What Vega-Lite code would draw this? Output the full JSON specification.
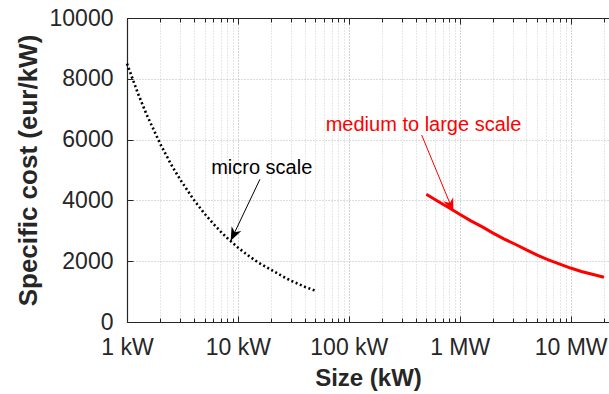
{
  "$schema": "https://vega.github.io/schema/vega-lite/v6.json",
  "width": 482,
  "height": 304,
  "autosize": "none",
  "padding": {"left": 127, "top": 18, "right": 0, "bottom": 72},
  "background": "white",
  "config": {
    "font": "Liberation Sans",
    "view": {"stroke": null},
    "axis": {
      "domainColor": "#262626",
      "domainWidth": 1.2,
      "tickColor": "#262626",
      "labelColor": "#262626",
      "labelFont": "Liberation Sans",
      "labelFontSize": 23,
      "titleFont": "Liberation Sans",
      "titleFontSize": 26,
      "titleFontWeight": "bold",
      "titleColor": "#262626",
      "gridDash": [1, 2],
      "gridWidth": 1
    }
  },
  "datasets": {
    "micro": [
      {"size": 1, "cost": 8500},
      {"size": 1.25, "cost": 7535},
      {"size": 1.5, "cost": 6830},
      {"size": 2, "cost": 5850},
      {"size": 2.5, "cost": 5183},
      {"size": 3, "cost": 4700},
      {"size": 4, "cost": 4020},
      {"size": 5, "cost": 3564},
      {"size": 6, "cost": 3231},
      {"size": 7, "cost": 2972},
      {"size": 8, "cost": 2765},
      {"size": 10, "cost": 2452},
      {"size": 12, "cost": 2222},
      {"size": 15, "cost": 1975},
      {"size": 20, "cost": 1715},
      {"size": 25, "cost": 1510},
      {"size": 30, "cost": 1360},
      {"size": 40, "cost": 1160},
      {"size": 50, "cost": 1030}
    ],
    "large": [
      {"size": 500, "cost": 4200},
      {"size": 630, "cost": 3980},
      {"size": 800, "cost": 3760},
      {"size": 1000, "cost": 3545},
      {"size": 1250, "cost": 3335},
      {"size": 1600, "cost": 3130},
      {"size": 2000, "cost": 2925},
      {"size": 2500, "cost": 2735},
      {"size": 3200, "cost": 2550},
      {"size": 4000, "cost": 2370},
      {"size": 5000, "cost": 2200},
      {"size": 6300, "cost": 2045},
      {"size": 8000, "cost": 1905},
      {"size": 10000, "cost": 1775},
      {"size": 12500, "cost": 1660},
      {"size": 16000, "cost": 1560},
      {"size": 20000, "cost": 1470}
    ],
    "microNote": [
      {"label": "micro scale", "tx": 16.4, "ty": 5066, "x0": 15.8, "y0": 4694, "x1": 8.61, "y1": 2674}
    ],
    "largeNote": [
      {"label": "medium to large scale", "tx": 472, "ty": 6480, "x0": 454, "y0": 6151, "x1": 877, "y1": 3628}
    ]
  },
  "resolve": {"axis": {"x": "independent", "y": "independent"}},
  "layer": [
    {
      "data": {"name": "micro"},
      "mark": {"type": "line", "color": "black", "strokeWidth": 2.6, "strokeDash": [2, 2.6], "strokeCap": "butt"},
      "encoding": {
        "x": {
          "field": "size", "type": "quantitative",
          "scale": {"type": "log", "domain": [1, 22200], "nice": false},
          "axis": {
            "orient": "bottom",
            "title": "Size (kW)",
            "titleFontSize": 24,
            "titlePadding": 5,
            "values": [1,2,3,4,5,6,7,8,9,10,20,30,40,50,60,70,80,90,100,200,300,400,500,600,700,800,900,1000,2000,3000,4000,5000,6000,7000,8000,9000,10000,20000],
            "labelExpr": "datum.value == 1 ? '1 kW' : datum.value == 10 ? '10 kW' : datum.value == 100 ? '100 kW' : datum.value == 1000 ? '1 MW' : datum.value == 10000 ? '10 MW' : ''",
            "labelOverlap": false,
            "labelFlush": false,
            "labelPadding": 20,
            "tickSize": {"condition": {"test": "indexof([1,10,100,1000,10000], datum.value) >= 0", "value": -6}, "value": -4},
            "grid": true,
            "gridColor": {"condition": {"test": "indexof([1,10,100,1000,10000], datum.value) >= 0", "value": "#a8a8a8"}, "value": "#cfcfcf"}
          }
        },
        "y": {
          "field": "cost", "type": "quantitative",
          "scale": {"domain": [0, 10000], "nice": false},
          "axis": {
            "orient": "left",
            "title": "Specific cost (eur/kW)",
            "values": [0, 2000, 4000, 6000, 8000, 10000],
            "format": "d",
            "tickSize": -6,
            "labelPadding": 20,
            "titlePadding": 8,
            "grid": true,
            "gridColor": "#b8b8b8"
          }
        }
      }
    },
    {
      "data": {"name": "large"},
      "mark": {"type": "line", "color": "#ff0000", "strokeWidth": 3},
      "encoding": {
        "x": {
          "field": "size", "type": "quantitative",
          "axis": {
            "orient": "top",
            "title": null,
            "labels": false,
            "grid": false,
            "values": [1,2,3,4,5,6,7,8,9,10,20,30,40,50,60,70,80,90,100,200,300,400,500,600,700,800,900,1000,2000,3000,4000,5000,6000,7000,8000,9000,10000,20000],
            "tickSize": {"condition": {"test": "indexof([1,10,100,1000,10000], datum.value) >= 0", "value": -6}, "value": -4}
          }
        },
        "y": {"field": "cost", "type": "quantitative", "axis": null}
      }
    },
    {
      "data": {"name": "microNote"},
      "mark": {"type": "rule", "color": "black", "strokeWidth": 1},
      "encoding": {
        "x": {"field": "x0", "type": "quantitative", "axis": null},
        "y": {"field": "y0", "type": "quantitative", "axis": null},
        "x2": {"field": "x1"},
        "y2": {"field": "y1"}
      }
    },
    {
      "data": {"name": "microNote"},
      "mark": {"type": "point", "shape": "M0,0 L-2,-0.8 L-1.4,0 L-2,0.8 Z", "filled": true, "color": "black", "opacity": 1, "size": 180, "angle": 115.5},
      "encoding": {
        "x": {"field": "x1", "type": "quantitative", "axis": null},
        "y": {"field": "y1", "type": "quantitative", "axis": null}
      }
    },
    {
      "data": {"name": "microNote"},
      "mark": {"type": "text", "color": "black", "fontSize": 20, "align": "center", "baseline": "middle"},
      "encoding": {
        "x": {"field": "tx", "type": "quantitative", "axis": null},
        "y": {"field": "ty", "type": "quantitative", "axis": null},
        "text": {"field": "label"}
      }
    },
    {
      "data": {"name": "largeNote"},
      "mark": {"type": "rule", "color": "#ff0000", "strokeWidth": 1},
      "encoding": {
        "x": {"field": "x0", "type": "quantitative", "axis": null},
        "y": {"field": "y0", "type": "quantitative", "axis": null},
        "x2": {"field": "x1"},
        "y2": {"field": "y1"}
      }
    },
    {
      "data": {"name": "largeNote"},
      "mark": {"type": "point", "shape": "M0,0 L-2,-0.8 L-1.4,0 L-2,0.8 Z", "filled": true, "color": "#ff0000", "opacity": 1, "size": 180, "angle": 67.6},
      "encoding": {
        "x": {"field": "x1", "type": "quantitative", "axis": null},
        "y": {"field": "y1", "type": "quantitative", "axis": null}
      }
    },
    {
      "data": {"name": "largeNote"},
      "mark": {"type": "text", "color": "#ff0000", "fontSize": 20, "align": "center", "baseline": "middle"},
      "encoding": {
        "x": {"field": "tx", "type": "quantitative", "axis": null},
        "y": {"field": "ty", "type": "quantitative", "axis": null},
        "text": {"field": "label"}
      }
    }
  ]
}
